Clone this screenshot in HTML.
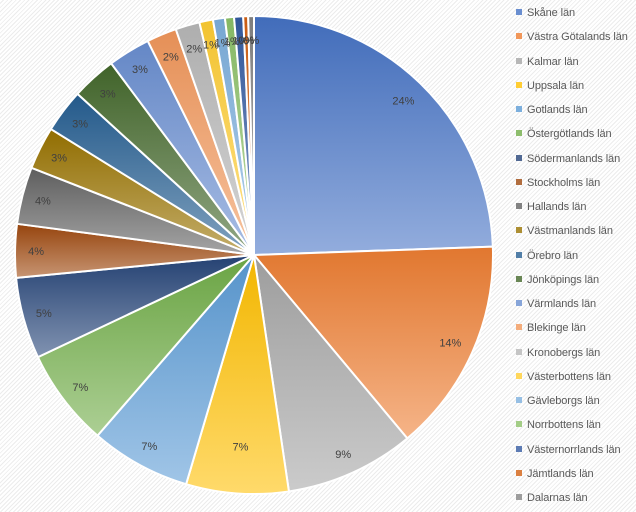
<!DOCTYPE html>
<html><head><meta charset="utf-8"><style>
html,body{margin:0;padding:0}
body{width:636px;height:512px;overflow:hidden;background:#fff repeating-linear-gradient(135deg,#fff 0,#fff 2px,#ececec 2px,#ececec 3px);font-family:"Liberation Sans",sans-serif}
svg{position:absolute;left:0;top:0}
.leg{position:absolute;left:516px;top:0;font-size:11px;color:#595959;letter-spacing:-0.1px}
.leg div{position:absolute;white-space:nowrap;left:0;height:14px;line-height:14px}
.leg span{display:inline-block;width:6px;height:6px;margin-right:5px;vertical-align:1px}
text{font-family:"Liberation Sans",sans-serif;font-size:11px;fill:#404040}
</style></head><body>
<svg id="s" width="636" height="512" viewBox="0 0 636 512"><defs id="d"></defs><g id="p"></g><g id="t">
<text>24%</text><text>14%</text><text>9%</text><text>7%</text><text>7%</text><text>7%</text><text>5%</text><text>4%</text><text>4%</text><text>3%</text><text>3%</text><text>3%</text><text>3%</text><text>2%</text><text>2%</text><text>1%</text><text>1%</text><text>1%</text><text>1%</text><text>0%</text><text>0%</text>
</g></svg>
<div class="leg" id="L">
<div><span></span>Skåne län</div><div><span></span>Västra Götalands län</div><div><span></span>Kalmar län</div><div><span></span>Uppsala län</div><div><span></span>Gotlands län</div><div><span></span>Östergötlands län</div><div><span></span>Södermanlands län</div><div><span></span>Stockholms län</div><div><span></span>Hallands län</div><div><span></span>Västmanlands län</div><div><span></span>Örebro län</div><div><span></span>Jönköpings län</div><div><span></span>Värmlands län</div><div><span></span>Blekinge län</div><div><span></span>Kronobergs län</div><div><span></span>Västerbottens län</div><div><span></span>Gävleborgs län</div><div><span></span>Norrbottens län</div><div><span></span>Västernorrlands län</div><div><span></span>Jämtlands län</div><div><span></span>Dalarnas län</div>
</div>
<script>
var cols=["4472C4","ED7D31","A5A5A5","FFC000","5B9BD5","70AD47","264478","9E480E","636363","997300","255E91","43682B","698ED0","F1975A","B7B7B7","FFCD33","7CAFDD","8CC168","335AA1","D26012","848484"];
var ends=[0,88,140.1,171.6,196.5,220.9,244.7,264.5,277.5,291.4,301.8,312.4,323.3,333.6,340.9,346.8,350.1,353,355.2,357.4,358.6,360];
var cx=254,cy=255,R=239,NS="http://www.w3.org/2000/svg";
function hx(c){return [parseInt(c.substr(0,2),16),parseInt(c.substr(2,2),16),parseInt(c.substr(4,2),16)]}
function mix(c,w,f){return "rgb("+c.map(function(v){return Math.round(v*(1-f)+w*f)}).join(",")+")"}
function pt(a,r){a=a*Math.PI/180;return [cx+r*Math.sin(a),cy-r*Math.cos(a)]}
var d=document.getElementById("d"),g=document.getElementById("p"),ts=document.querySelectorAll("#t text"),L=document.querySelectorAll("#L div");
for(var i=0;i<21;i++){
 var c=hx(cols[i]);
 var lg=document.createElementNS(NS,"linearGradient");lg.id="g"+i;lg.setAttribute("x1","0");lg.setAttribute("y1","0");lg.setAttribute("x2","0");lg.setAttribute("y2","1");
 lg.innerHTML='<stop offset="0" stop-color="'+mix(c,0,0.05)+'"/><stop offset="1" stop-color="'+mix(c,255,0.42)+'"/>';
 d.appendChild(lg);
 var a0=ends[i],a1=ends[i+1],p0=pt(a0,R),p1=pt(a1,R);
 var pa=document.createElementNS(NS,"path");
 pa.setAttribute("d","M"+cx+","+cy+"L"+p0[0]+","+p0[1]+"A"+R+","+R+" 0 "+((a1-a0)>180?1:0)+" 1 "+p1[0]+","+p1[1]+"Z");
 pa.setAttribute("fill","url(#g"+i+")");pa.setAttribute("stroke","#fff");pa.setAttribute("stroke-width","2");
 g.appendChild(pa);
 var m=pt((a0+a1)/2,i==3?192:(i<2||i>12?215:218));ts[i].setAttribute("x",m[0]);ts[i].setAttribute("y",m[1]+4);ts[i].setAttribute("text-anchor","middle");
 L[i].style.top=(6+i*24.25)+"px";L[i].firstChild.style.background=mix(c,255,0.2);
}
</script>
</body></html>
